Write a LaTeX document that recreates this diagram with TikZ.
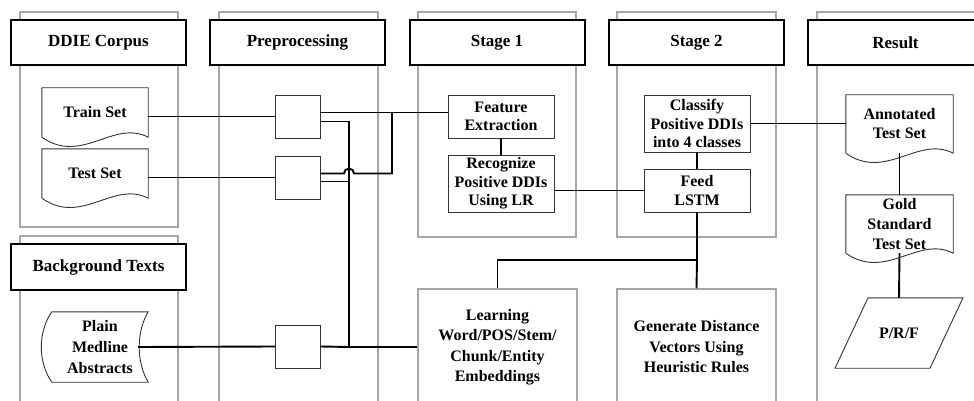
\documentclass[tikz,border=0pt]{standalone}
\usepackage{fontspec}
\setmainfont{Liberation Serif}
\usetikzlibrary{calc}

\begin{document}
\begin{tikzpicture}[x=1pt,y=-1pt,
    lane/.style={draw=gray!70,line width=1.5pt},
    head/.style={draw=black,fill=white,line width=2pt,minimum width=175pt,minimum height=45pt,font=\fontsize{17}{20}\selectfont\bfseries},
    proc/.style={draw=gray!40!black,line width=0.9pt,fill=white,minimum width=45pt,minimum height=43pt},
    task/.style={draw=gray!40!black,line width=0.9pt,fill=white,minimum width=106pt,inner sep=1pt,align=center,font=\fontsize{16}{18.5}\selectfont\bfseries},
    doc/.style={inner sep=1pt,align=center,font=\fontsize{16}{19}\selectfont\bfseries},
    outline/.style={draw=gray!40!black,line width=0.9pt},
    big/.style={draw=gray!70,line width=1.5pt,minimum width=159pt,minimum height=116pt,align=center,font=\fontsize{16}{20.5}\selectfont\bfseries},
    link/.style={line width=1.9pt}]
          \clip (0,0) rectangle (974,401);
          \draw[lane] (20,12) rectangle (178,227);
          \draw[lane] (20,236) rectangle (178,410);
          \draw[lane] (219,12) rectangle (378,410);
          \draw[lane] (418,12) rectangle (576,237);
          \draw[lane] (617,12) rectangle (776,237);
          \draw[lane] (817,12) rectangle (990,410);
          \node[head] (hcorp) at (98.5,42.5) {DDIE Corpus};
          \node[head] (hpre) at (297.5,42.5) {Preprocessing};
          \node[head] (hst1) at (497,42.5) {Stage 1};
          \node[head] (hst2) at (696.5,42.5) {Stage 2};
          \node[head] (hres) at (895.5,42.5) {Result};
          \node[head,minimum height=46pt] (hbg) at (98.5,267) {Background Texts};
          \node[doc,minimum width=106pt,minimum height=49pt] (train) at (95,112.5) {Train Set};
          \node[doc,minimum width=106pt,minimum height=49pt] (test) at (95,173.5) {Test Set};
          \node[doc,minimum width=107pt,minimum height=58pt] (annot) at (899.5,124) {Annotated\\Test Set};
          \node[doc,minimum width=107pt,minimum height=58pt,font=\fontsize{16}{20}\selectfont\bfseries] (gold) at (899.5,224) {Gold\\Standard\\Test Set};
          \foreach \d in {train,test,annot,gold}
            \draw[outline] (\d.south west) -- (\d.north west) -- (\d.north east) -- (\d.south east)
              .. controls ($(\d.south east)+(-35,-18)$) and ($(\d.south west)+(40,28)$) .. (\d.south west);
          \node[doc,minimum width=96pt,minimum height=70pt,font=\fontsize{16}{21}\selectfont\bfseries] (plain) at (100,347) {Plain\\Medline\\Abstracts};
          \draw[outline] (plain.north west) -- (plain.north east)
            .. controls ($(plain.north east)+(-12,20)$) and ($(plain.south east)+(-12,-20)$) .. (plain.south east)
            -- (plain.south west)
            .. controls ($(plain.south west)+(-14,-20)$) and ($(plain.north west)+(-14,20)$) .. cycle;
          \node[doc,minimum height=70pt] (prf) at (899,333) {P/R/F};
          \draw[outline] ($(prf.south)+(-64,0)$) -- ($(prf.south)+(31,0)$) -- ($(prf.north)+(64,0)$) -- ($(prf.north)+(-31,0)$) -- cycle;
          \node[proc] (pre1) at (297.5,116.5) {};
          \node[proc] (pre2) at (297.5,177.5) {};
          \node[proc] (pre3) at (298,346.5) {};
          \node[task,minimum height=43pt] (feat) at (501,116.5) {Feature\\Extraction};
          \node[task,minimum height=57pt] (recog) at (501,183.5) {Recognize\\Positive DDIs\\Using LR};
          \node[task,minimum height=57pt] (classify) at (697,123.5) {Classify\\Positive DDIs\\into 4 classes};
          \node[task,minimum height=43pt] (feed) at (697,190.5) {Feed\\LSTM};
          \node[big] (learn) at (497.5,347) {Learning\\Word/POS/Stem/\\Chunk/Entity\\Embeddings};
          \node[big] (gen) at (696.5,347) {Generate Distance\\Vectors Using\\Heuristic Rules};
          \coordinate (p1a) at ([yshift=4pt]pre1.east);
          \coordinate (p1b) at ([yshift=-5pt]pre1.east);
          \coordinate (p2a) at ([yshift=4pt]pre2.east);
          \coordinate (p2b) at ([yshift=-4pt]pre2.east);
          \coordinate (bus) at (349,347);
          \coordinate (split) at (392,0);
          \coordinate (fork) at (697,260);
          \draw[link] (pre1.west -| train.east) -- (pre1.west);
          \draw[link] (pre2.west -| test.east) -- (pre2.west);
          \draw[link] ($(plain.east)+(-10,0)$) -- (pre3.west);
          \draw[link] (p1a) -- (p1a -| feat.west);
          \draw[link] (p2a) -- ($(p2a -| bus)+(-5,0)$) arc[start angle=180,end angle=0,radius=5pt] -- (p2a -| split) -- (p1a -| split);
          \draw[link] (p1b) -| (bus) -- (learn.west);
          \draw[link] (p2b) -- (p2b -| bus);
          \draw[link] (pre3.east) -- (bus);
          \draw[link] (feat) -- (recog);
          \draw[link] (feed.west -| recog.east) -- (feed.west);
          \draw[link] (classify) -- (feed);
          \draw[link] (feed.south) -- (fork) -| (learn.north);
          \draw[link] (fork) -- (gen.north);
          \draw[link] (classify.east) -- (classify.east -| annot.west);
          \draw[link] (annot.south) -- (gold.north);
          \draw[link] (gold.south) -- (prf.north);
        \end{tikzpicture}
\end{document}
